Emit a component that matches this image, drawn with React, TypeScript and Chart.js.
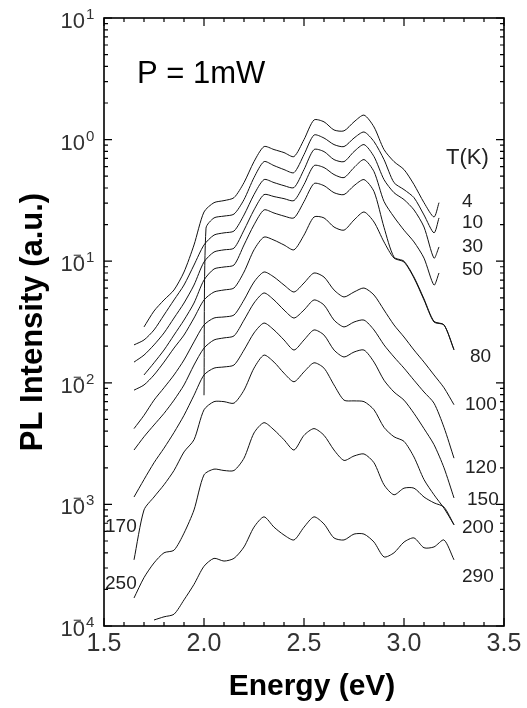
import React, { useEffect, useRef } from 'react';
import { Chart, registerables } from 'chart.js';

Chart.register(...registerables);

// Photon energy grid (eV)
const energies = [1.65, 1.70, 1.75, 1.80, 1.85, 1.90, 1.95, 2.00, 2.01, 2.05, 2.10, 2.15, 2.20, 2.25, 2.30, 2.35, 2.40, 2.45, 2.50, 2.55, 2.60, 2.65, 2.70, 2.75, 2.80, 2.85, 2.90, 2.95, 3.00, 3.05, 3.10, 3.15, 3.175, 3.20, 3.25];

// PL intensity (a.u.) for each temperature
const pl4K = [null, 0.0288, 0.0389, 0.048, 0.058, 0.0815, 0.136, 0.254, null, 0.303, 0.315, 0.333, 0.443, 0.659, 0.876, 0.828, 0.782, 0.725, 1.0, 1.45, 1.40, 1.20, 1.18, 1.40, 1.59, 1.27, 0.828, 0.659, 0.567, 0.427, 0.303, 0.231, 0.303, null, null];
const pl10K = [null, null, null, null, null, null, null, 0.0079, 0.187, 0.227, 0.235, 0.244, 0.321, 0.487, 0.659, 0.611, 0.567, 0.535, 0.753, 1.09, 1.03, 0.91, 0.876, 1.03, 1.155, 0.963, 0.685, 0.443, 0.388, 0.333, 0.240, 0.171, 0.227, null, null];
const pl30K = [0.0205, 0.0225, 0.0272, 0.0361, 0.048, 0.0637, 0.093, 0.136, null, 0.164, 0.171, 0.177, 0.240, 0.353, 0.469, 0.443, 0.418, 0.403, 0.567, 0.828, 0.797, 0.685, 0.659, 0.797, 0.91, 0.725, 0.469, 0.366, 0.321, 0.264, 0.191, 0.106, 0.131, null, null];
const pl50K = [0.0148, 0.0169, 0.0205, 0.0257, 0.0341, 0.0453, 0.0637, 0.0985, null, 0.119, 0.124, 0.128, 0.180, 0.264, 0.353, 0.340, 0.327, 0.315, 0.427, 0.611, 0.589, 0.516, 0.487, 0.589, 0.685, 0.545, 0.31, 0.231, 0.180, 0.144, 0.106, 0.0637, 0.080, null, null];
const pl80K = [null, 0.0116, 0.0146, 0.0186, 0.0247, 0.0328, 0.0453, 0.070, null, 0.0863, 0.0896, 0.093, 0.136, 0.199, 0.264, 0.249, 0.235, 0.227, 0.309, 0.435, 0.418, 0.366, 0.353, 0.418, 0.469, 0.374, 0.19, 0.108, 0.100, 0.074, 0.049, 0.032, null, 0.030, 0.0188];
const pl100K = [0.0087, 0.0096, 0.0116, 0.0148, 0.0193, 0.0247, 0.0341, 0.048, null, 0.0558, 0.058, 0.0602, 0.0815, 0.124, 0.158, 0.149, 0.136, 0.124, 0.164, 0.231, 0.227, 0.191, 0.180, 0.218, 0.254, 0.210, 0.144, 0.106, 0.0985, 0.0727, 0.048, 0.0316, null, 0.0299, 0.0186];
const pl120K = [0.0042, 0.0054, 0.0072, 0.0091, 0.0116, 0.0154, 0.0217, 0.0299, null, 0.0341, 0.0348, 0.0361, 0.048, 0.0674, 0.0815, 0.0741, 0.0637, 0.0558, 0.0662, 0.080, 0.0741, 0.058, 0.0508, 0.0558, 0.0602, 0.0527, 0.0397, 0.0299, 0.0238, 0.0186, 0.0148, 0.0116, null, 0.0091, 0.0066];
const pl150K = [0.0028, 0.0036, 0.0045, 0.0056, 0.0072, 0.0096, 0.0140, 0.0193, null, 0.0225, 0.0234, 0.0243, 0.0328, 0.0453, 0.0548, 0.048, 0.0397, 0.0341, 0.0397, 0.048, 0.0436, 0.0328, 0.0288, 0.0316, 0.0328, 0.0272, 0.0205, 0.0163, 0.0132, 0.0105, 0.0084, 0.0068, null, 0.0043, 0.0024];
const pl170K = [0.00115, 0.0016, 0.0022, 0.0029, 0.0039, 0.0054, 0.0079, 0.0116, null, 0.0132, 0.0135, 0.0140, 0.0186, 0.0257, 0.031, 0.0272, 0.0225, 0.0186, 0.0225, 0.0272, 0.0247, 0.0186, 0.0163, 0.0179, 0.0186, 0.0148, 0.0105, 0.0084, 0.0072, 0.0056, 0.0042, 0.0031, null, 0.0020, 0.00113];
const pl200K = [0.00035, 0.0009, 0.00115, 0.00145, 0.0019, 0.0027, 0.0034, 0.006, null, 0.007, 0.007, 0.0068, 0.0087, 0.0132, 0.0169, 0.0148, 0.0120, 0.0102, 0.0123, 0.0146, 0.0132, 0.0096, 0.0072, 0.0071, 0.0070, 0.0060, 0.0043, 0.0036, 0.0033, 0.00245, 0.0016, 0.0012, null, 0.00093, 0.00068];
const pl250K = [0.00017, 0.00025, 0.00033, 0.0004, 0.00042, 0.00058, 0.0009, 0.00175, null, 0.00195, 0.0019, 0.0019, 0.0024, 0.00387, 0.0047, 0.0041, 0.0034, 0.0028, 0.0037, 0.0042, 0.0037, 0.0028, 0.0023, 0.0025, 0.0026, 0.0022, 0.00145, 0.0012, 0.00136, 0.00136, 0.00115, 0.00103, null, 0.00095, 0.00068];
const pl290K = [null, null, 0.000112, 0.000119, 0.000125, 0.000164, 0.00022, 0.00031, null, 0.00036, 0.000342, 0.00036, 0.000447, 0.00065, 0.00079, 0.00065, 0.00056, 0.00051, 0.00065, 0.00079, 0.00069, 0.00053, 0.00051, 0.00057, 0.00057, 0.00049, 0.00037, 0.0004, 0.00049, 0.00053, 0.00044, 0.000447, null, 0.00051, 0.00035];

const temperatures = ['4', '10', '30', '50', '80', '100', '120', '150', '170', '200', '250', '290'];
const spectra = [pl4K, pl10K, pl30K, pl50K, pl80K, pl100K, pl120K, pl150K, pl170K, pl200K, pl250K, pl290K];

// Axis tick labels
const xTickValues = [1.5, 2.0, 2.5, 3.0, 3.5];
const yExponents = [1, 0, -1, -2, -3, -4];

// Text annotations: temperature tags beside the curves
const tempTags = ['4', '10', '30', '50', '80', '100', '120', '150', '200', '290', '170', '250'];
const tagSpots = [
  [462, 202], [462, 223], [462, 247], [462, 270], [470, 357], [465, 405],
  [465, 468], [467, 500], [462, 528], [462, 577], [105, 527], [105, 584],
];

const FONT = '"Liberation Sans", Arial, Helvetica, sans-serif';

const decorPlugin = {
  id: 'decor',
  afterDraw(chart: any) {
    const { ctx, chartArea: a } = chart;
    const xs = chart.scales.x;
    const ys = chart.scales.y;
    ctx.save();
    // frame
    ctx.strokeStyle = '#000';
    ctx.lineWidth = 1.6;
    ctx.strokeRect(a.left, a.top, a.right - a.left, a.bottom - a.top);
    // inward tick marks
    ctx.lineWidth = 1.2;
    ctx.beginPath();
    const xMin = xTickValues[0];
    for (let k = 0; k <= 20; k++) {
      const px = xs.getPixelForValue(xMin + k * 0.1);
      const len = k % 5 === 0 ? 8 : 4;
      ctx.moveTo(px, a.bottom);
      ctx.lineTo(px, a.bottom - len);
      ctx.moveTo(px, a.top);
      ctx.lineTo(px, a.top + len);
    }
    for (let e = -4; e <= 1; e++) {
      for (let m = 1; m <= 9; m++) {
        if (e === 1 && m > 1) break;
        const py = ys.getPixelForValue(m * Math.pow(10, e));
        const len = m === 1 ? 8 : 4;
        ctx.moveTo(a.left, py);
        ctx.lineTo(a.left + len, py);
        ctx.moveTo(a.right, py);
        ctx.lineTo(a.right - len, py);
      }
    }
    ctx.stroke();

    // y tick labels 10^n
    ctx.fillStyle = '#333';
    for (const e of yExponents) {
      const py = ys.getPixelForValue(Math.pow(10, e));
      const bx = a.left - 19;
      ctx.font = `22px ${FONT}`;
      ctx.textAlign = 'right';
      ctx.textBaseline = 'alphabetic';
      ctx.fillText('10', bx, py + 10);
      ctx.font = `15px ${FONT}`;
      ctx.textAlign = 'left';
      ctx.fillText(String(Math.abs(e)), bx + 1, py + 1);
      if (e < 0) {
        ctx.fillText('\u2212', bx - 12, py - 1);
      }
    }

    // axis titles
    ctx.fillStyle = '#000';
    ctx.font = `bold 30px ${FONT}`;
    ctx.textAlign = 'center';
    ctx.textBaseline = 'alphabetic';
    ctx.fillText('Energy (eV)', 312, 695);
    ctx.save();
    ctx.translate(42, (a.top + a.bottom) / 2);
    ctx.rotate(-Math.PI / 2);
    ctx.font = `bold 31px ${FONT}`;
    ctx.fillText('PL Intensity (a.u.)', 0, 0);
    ctx.restore();

    // power annotation
    ctx.font = `31px ${FONT}`;
    ctx.textAlign = 'left';
    ctx.fillText('P = 1mW', 137, 83);

    // T(K) heading and temperature tags
    ctx.fillStyle = '#222';
    ctx.font = `22px ${FONT}`;
    ctx.fillText('T(K)', 446, 164);
    ctx.font = `19px ${FONT}`;
    ctx.textBaseline = 'middle';
    tempTags.forEach((t, i) => {
      ctx.fillText(t, tagSpots[i][0], tagSpots[i][1]);
    });
    ctx.restore();
  },
};

export default function App() {
  const ref = useRef<HTMLCanvasElement>(null);
  useEffect(() => {
    const datasets = spectra.map((series, si) => ({
      label: `${temperatures[si]} K`,
      data: series.map((v, i) => ({ x: energies[i], y: v })),
      borderColor: '#111',
      borderWidth: 1,
      pointRadius: 0,
      tension: 0.25,
      spanGaps: true,
      fill: false,
    }));
    const chart = new Chart(ref.current as HTMLCanvasElement, {
      type: 'line',
      data: { datasets },
      options: {
        animation: false,
        responsive: false,
        layout: { padding: { left: 0, top: 18, right: 23, bottom: 0 } },
        plugins: { legend: { display: false }, tooltip: { enabled: false } },
        scales: {
          x: {
            type: 'linear',
            min: 1.5,
            max: 3.5,
            grid: { display: false, drawTicks: false },
            border: { display: false },
            afterBuildTicks: (s: any) => {
              s.ticks = xTickValues.map((v) => ({ value: v }));
            },
            ticks: {
              padding: 3,
              color: '#333',
              autoSkip: false,
              maxRotation: 0,
              font: { family: FONT, size: 25 },
              callback: (v: any) => Number(v).toFixed(1),
            },
            afterFit: (s: any) => {
              s.height = 82;
            },
          },
          y: {
            type: 'logarithmic',
            min: 1e-4,
            max: 10,
            grid: { display: false },
            border: { display: false },
            ticks: { display: false },
            afterFit: (s: any) => {
              s.width = 104;
            },
          },
        },
      },
      plugins: [decorPlugin],
    } as any);
    return () => chart.destroy();
  }, []);
  return (
    <div style={{ position: 'absolute', left: 0, top: 0, width: 527, height: 708, background: '#fff' }}>
      <canvas ref={ref} width={527} height={708} style={{ display: 'block', width: 527, height: 708 }} />
    </div>
  );
}
